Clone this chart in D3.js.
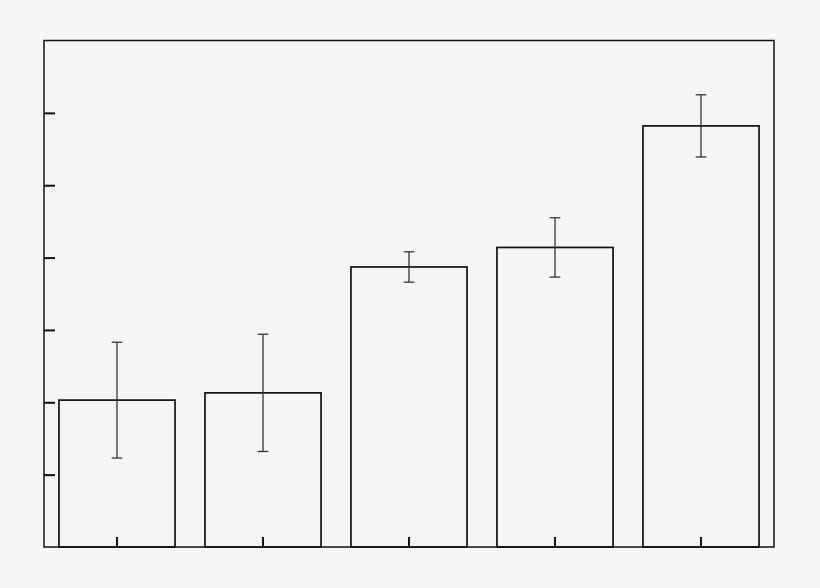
<!DOCTYPE html>
<html lang="en">
<head>
  <meta charset="UTF-8">
  <title>bar chart with error bars</title>
  <style>
    html, body { margin: 0; padding: 0; background: #f5f5f5; }
    svg { display: block; }
  </style>
</head>
<body>
  <script src="https://cdn.jsdelivr.net/npm/d3@7/dist/d3.min.js"></script>
  <script>
    // data
    var categories = ["A", "B", "C", "D", "E"];
    var values = [2.03, 2.13, 3.87, 4.14, 5.82];
    var errors = [0.80, 0.81, 0.21, 0.41, 0.43];
    var yTicks = [1, 2, 3, 4, 5, 6];

    var width = 820, height = 588;
    var margin = {top: 40.5, right: 46, bottom: 41, left: 44};
    var innerW = width - margin.left - margin.right;
    var innerH = height - margin.top - margin.bottom;

    var svg = d3.select("body").append("svg")
      .attr("width", width)
      .attr("height", height);

    var g = svg.append("g")
      .attr("transform", "translate(" + margin.left + "," + margin.top + ")");

    var x = d3.scaleBand()
      .domain(categories)
      .range([0, innerW])
      .paddingInner(0.205)
      .paddingOuter(0.1025);

    var y = d3.scaleLinear()
      .domain([0, 7])
      .range([innerH, 0]);

    // bars
    g.selectAll("rect.bar")
      .data(values)
      .enter()
      .append("rect")
      .attr("class", "bar")
      .attr("x", function(d, i) { return x(categories[i]); })
      .attr("y", function(d) { return y(d); })
      .attr("width", x.bandwidth())
      .attr("height", function(d) { return innerH - y(d); })
      .attr("fill", "none")
      .attr("stroke", "#111")
      .attr("stroke-width", 1.7);

    // error bars
    var capW = 5.3;
    var err = g.selectAll("g.err")
      .data(values)
      .enter()
      .append("g")
      .attr("class", "err")
      .attr("stroke", "#333")
      .attr("stroke-width", 1.3);
    err.append("line")
      .attr("x1", function(d, i) { return x(categories[i]) + x.bandwidth() / 2; })
      .attr("x2", function(d, i) { return x(categories[i]) + x.bandwidth() / 2; })
      .attr("y1", function(d, i) { return y(d + errors[i]); })
      .attr("y2", function(d, i) { return y(d - errors[i]); });
    err.append("line")
      .attr("x1", function(d, i) { return x(categories[i]) + x.bandwidth() / 2 - capW; })
      .attr("x2", function(d, i) { return x(categories[i]) + x.bandwidth() / 2 + capW; })
      .attr("y1", function(d, i) { return y(d + errors[i]); })
      .attr("y2", function(d, i) { return y(d + errors[i]); });
    err.append("line")
      .attr("x1", function(d, i) { return x(categories[i]) + x.bandwidth() / 2 - capW; })
      .attr("x2", function(d, i) { return x(categories[i]) + x.bandwidth() / 2 + capW; })
      .attr("y1", function(d, i) { return y(d - errors[i]); })
      .attr("y2", function(d, i) { return y(d - errors[i]); });

    // axes: inward ticks, no labels
    var yAxis = d3.axisLeft(y).tickValues(yTicks).tickSize(-11).tickFormat("");
    var xAxis = d3.axisBottom(x).tickSize(-10).tickFormat("");

    g.append("g")
      .call(yAxis)
      .call(function(s) { s.select(".domain").remove(); })
      .selectAll("line").attr("stroke", "#111").attr("stroke-width", 2);

    g.append("g")
      .attr("transform", "translate(0," + innerH + ")")
      .call(xAxis)
      .call(function(s) { s.select(".domain").remove(); })
      .selectAll("line").attr("stroke", "#111").attr("stroke-width", 2);

    // frame
    g.append("rect")
      .attr("x", 0)
      .attr("y", 0)
      .attr("width", innerW)
      .attr("height", innerH)
      .attr("fill", "none")
      .attr("stroke", "#111")
      .attr("stroke-width", 1.5);
  </script>
</body>
</html>
